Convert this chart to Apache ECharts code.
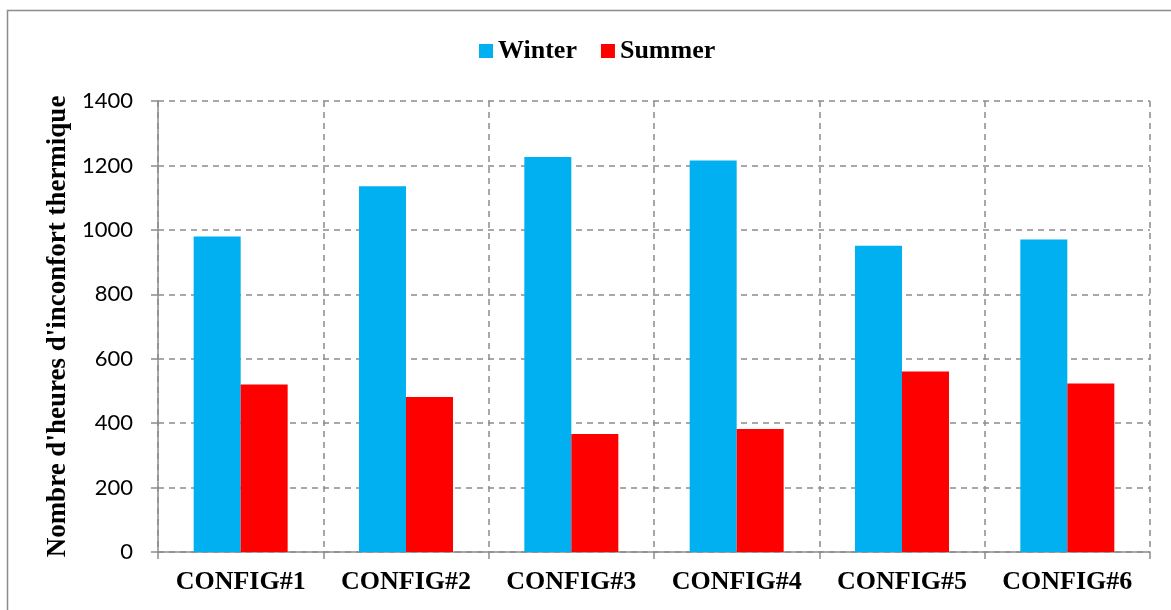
<!DOCTYPE html>
<html>
<head>
<meta charset="utf-8">
<script src="https://cdn.jsdelivr.net/npm/echarts@6/dist/echarts.min.js"></script>
<style>
  html, body { margin: 0; padding: 0; background: #fff; }
  #chart { width: 1171px; height: 610px; }
</style>
</head>
<body>
<div id="chart"></div>
<script>
// Thermal discomfort hours per building configuration
const categories = ['CONFIG#1', 'CONFIG#2', 'CONFIG#3', 'CONFIG#4', 'CONFIG#5', 'CONFIG#6'];
const winterHours = [979, 1135, 1226, 1215, 951, 970];
const summerHours = [520, 481, 366, 382, 560, 523];
const yTicks = { min: 0, max: 1400, step: 200 };

const gridColor = '#8c8c8c';
const serif = '"Liberation Serif", "DejaVu Serif", serif';

const chart = echarts.init(document.getElementById('chart'), null, { renderer: 'canvas' });

chart.setOption({
  backgroundColor: '#fff',
  animation: false,
  graphic: [{
    type: 'rect',
    shape: { x: 7.5, y: 10.5, width: 1200, height: 660 },
    style: { fill: 'none', stroke: '#8c8c8c', lineWidth: 1.5 },
    silent: true
  }],
  legend: {
    top: 33,
    left: 474,
    itemWidth: 14,
    itemHeight: 14,
    itemGap: 24,
    icon: 'rect',
    textStyle: { fontFamily: serif, fontWeight: 'bold', fontSize: 26, color: '#000' },
    data: ['Winter', 'Summer']
  },
  grid: { left: 158, right: 21, top: 101, bottom: 58, containLabel: false },
  xAxis: {
    type: 'category',
    data: categories,
    boundaryGap: true,
    axisLine: { lineStyle: { color: gridColor, width: 1.5 } },
    axisTick: { show: true, interval: 0, alignWithLabel: false, length: 7, lineStyle: { color: gridColor, width: 1.5 } },
    axisLabel: { interval: 0, margin: 17, fontFamily: serif, fontWeight: 'bold', fontSize: 26, color: '#000' },
    splitLine: { show: true, interval: 0, lineStyle: { color: gridColor, type: [6, 5], width: 1.5 } }
  },
  yAxis: {
    type: 'value',
    min: yTicks.min,
    max: yTicks.max,
    interval: yTicks.step,
    name: "Nombre d'heures d'inconfort thermique",
    nameLocation: 'middle',
    nameGap: 86,
    nameTextStyle: { fontFamily: serif, fontWeight: 'bold', fontSize: 27, color: '#000' },
    axisLine: { show: true, lineStyle: { color: gridColor, width: 1.5 } },
    axisTick: { show: true, length: 7, lineStyle: { color: gridColor, width: 1.5 } },
    axisLabel: {
      margin: 25,
      fontFamily: 'Lato, "Open Sans", sans-serif',
      fontSize: 22,
      color: '#000',
      formatter: (v) => String(v)
    },
    splitLine: { show: true, lineStyle: { color: gridColor, type: [6, 5], width: 1.5 } }
  },
  series: [
    {
      name: 'Winter',
      type: 'bar',
      data: winterHours,
      barWidth: 47,
      barGap: '0%',
      itemStyle: { color: '#00B0F0' }
    },
    {
      name: 'Summer',
      type: 'bar',
      data: summerHours,
      barWidth: 47,
      barGap: '0%',
      itemStyle: { color: '#FF0000' }
    }
  ]
});
</script>
</body>
</html>
